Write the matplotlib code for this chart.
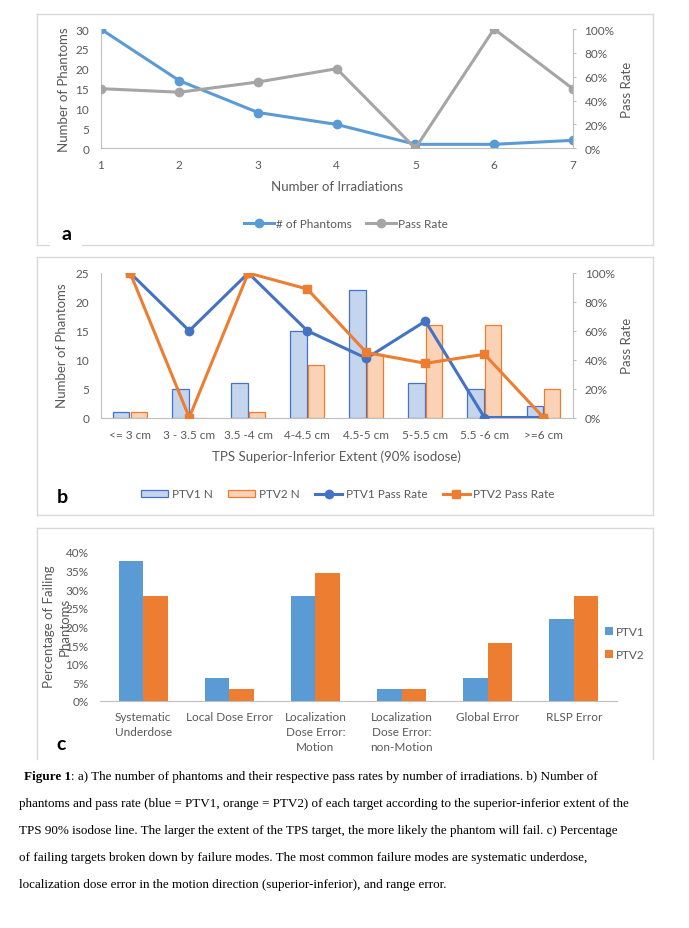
import matplotlib
matplotlib.use('Agg')
import matplotlib.pyplot as plt
from matplotlib.patches import Rectangle, Patch
from matplotlib.lines import Line2D
from matplotlib.ticker import PercentFormatter, MultipleLocator
import numpy as np

# ---------------- data ----------------
irradiations = [1, 2, 3, 4, 5, 6, 7]
n_phantoms = [30, 17, 9, 6, 1, 1, 2]
pass_rate_a = [0.50, 0.47, 0.556, 0.667, 0.0, 1.0, 0.50]

extent_labels = ["<= 3 cm", "3 - 3.5 cm", "3.5 -4 cm", "4-4.5 cm", "4.5-5 cm",
                 "5-5.5 cm", "5.5 -6 cm", ">=6 cm"]
ptv1_n = [1, 5, 6, 15, 22, 6, 5, 2]
ptv2_n = [1, 0, 1, 9, 11, 16, 16, 5]
ptv1_pass = [1.0, 0.60, 1.0, 0.60, 0.41, 0.667, 0.0, 0.0]
ptv2_pass = [1.0, 0.0, 1.0, 0.889, 0.45, 0.375, 0.4375, 0.0]

failure_modes = ["Systematic\nUnderdose", "Local Dose Error", "Localization\nDose Error:\nMotion",
                 "Localization\nDose Error:\nnon-Motion", "Global Error", "RLSP Error"]
ptv1_fail = [0.375, 0.0625, 0.281, 0.031, 0.0625, 0.219]
ptv2_fail = [0.281, 0.031, 0.344, 0.031, 0.156, 0.281]

caption_bold = "Figure 1"
caption_lines = [
    ": a) The number of phantoms and their respective pass rates by number of irradiations. b) Number of",
    "phantoms and pass rate (blue = PTV1, orange = PTV2) of each target according to the superior-inferior extent of the",
    "TPS 90% isodose line. The larger the extent of the TPS target, the more likely the phantom will fail. c) Percentage",
    "of failing targets broken down by failure modes. The most common failure modes are systematic underdose,",
    "localization dose error in the motion direction (superior-inferior), and range error.",
]

# ---------------- setup ----------------
W, H = 689, 929
plt.rcParams['font.family'] = ['Lato', 'DejaVu Sans']
fig = plt.figure(figsize=(W / 100, H / 100), dpi=100)

GRAY = '#595959'
AXC = '#bfbfbf'
FRAME = '#d9d9d9'
FS_TICK = 8.5
FS_TITLE = 9.5


def fx(x):
    return x / W


def fy(y):
    return 1 - y / H


def axes_px(l, t, r, b):
    return fig.add_axes([fx(l), fy(b), (r - l) / W, (b - t) / H])


def frame(l, t, r, b, bottom=True):
    segs = [((l, t), (r, t)), ((l, t), (l, b)), ((r, t), (r, b))]
    if bottom:
        segs.append(((l, b), (r, b)))
    for (x0, y0), (x1, y1) in segs:
        fig.add_artist(Line2D([fx(x0), fx(x1)], [fy(y0), fy(y1)], transform=fig.transFigure,
                              color=FRAME, lw=1.0))


def style_main(ax, left=True):
    for s in ['top', 'right']:
        ax.spines[s].set_visible(False)
    ax.spines['left'].set_visible(left)
    ax.spines['left'].set_color(AXC)
    ax.spines['bottom'].set_color(AXC)
    ax.tick_params(axis='both', length=0, labelsize=FS_TICK, labelcolor=GRAY)
    ax.tick_params(axis='y', pad=8.2)
    ax.tick_params(axis='x', pad=8)
    ax.patch.set_alpha(0)


def style_twin(ax2):
    for s in ['top', 'left', 'bottom']:
        ax2.spines[s].set_visible(False)
    ax2.spines['right'].set_color(AXC)
    ax2.tick_params(axis='y', direction='out', length=2.5, color=AXC, labelsize=FS_TICK,
                    labelcolor=GRAY, pad=6.0)
    ax2.yaxis.set_major_formatter(PercentFormatter(1.0, decimals=0))
    ax2.yaxis.set_major_locator(MultipleLocator(0.2))
    ax2.set_ylim(0, 1)


def letter(x, y, s, white=None):
    if white is not None:
        l, t, r, b = white
        fig.add_artist(Rectangle((fx(l), fy(b)), (r - l) / W, (b - t) / H, transform=fig.transFigure,
                                 facecolor='white', edgecolor='none', zorder=5))
    fig.text(fx(x), fy(y), s, fontsize=14, fontweight='bold', ha='center', va='center',
             color='black', zorder=6)


# ---------------- panel a ----------------
frame(36.7, 14.5, 652.5, 245.5)
axa = axes_px(100.7, 30, 572.7, 149.3)
style_main(axa)
axa.plot(irradiations, n_phantoms, color='#5b9bd5', lw=2.2, marker='o', ms=6, label='# of Phantoms')
axa.set_xlim(1, 7)
axa.set_ylim(0, 30)
axa.yaxis.set_major_locator(MultipleLocator(5))
axa.set_xticks(irradiations)
axa2 = axa.twinx()
style_twin(axa2)
axa2.plot(irradiations, pass_rate_a, color='#a5a5a5', lw=2.2, marker='o', ms=6, label='Pass Rate')
axa2.set_xlim(1, 7)
fig.text(fx(64), fy(89.6), "Number of Phantoms", rotation=90, ha='center', va='center',
         fontsize=FS_TITLE, color=GRAY)
fig.text(fx(627), fy(89.6), "Pass Rate", rotation=90, ha='center', va='center',
         fontsize=FS_TITLE, color=GRAY)
fig.text(fx(337), fy(187), "Number of Irradiations", ha='center', va='center',
         fontsize=FS_TITLE, color=GRAY)
ha = [Line2D([], [], color='#5b9bd5', lw=2.2, marker='o', ms=6),
      Line2D([], [], color='#a5a5a5', lw=2.2, marker='o', ms=6)]
fig.legend(ha, ['# of Phantoms', 'Pass Rate'], loc='center', bbox_to_anchor=(fx(346), fy(225)),
           ncol=2, frameon=False, fontsize=FS_TICK, labelcolor=GRAY, handlelength=2.5,
           handletextpad=0.2, columnspacing=1.2, borderpad=0)
letter(66.7, 234, 'a', white=(50, 222, 82, 250))

# ---------------- panel b ----------------
frame(36.7, 258, 652.5, 516)
axb = axes_px(100.7, 274, 573, 418.5)
style_main(axb)
xb = np.arange(len(extent_labels))
bw = 0.275
axb.bar(xb - 0.15, ptv1_n, width=bw, facecolor='#c6d5ee', edgecolor='#4472c4', lw=0.9, label='PTV1 N')
axb.bar(xb + 0.15, ptv2_n, width=bw, facecolor='#fad3b6', edgecolor='#ed7d31', lw=0.9, label='PTV2 N')
axb.set_xlim(-0.5, len(extent_labels) - 0.5)
axb.set_ylim(0, 25)
axb.yaxis.set_major_locator(MultipleLocator(5))
axb.set_xticks(xb)
axb.set_xticklabels(extent_labels)
axb2 = axb.twinx()
style_twin(axb2)
axb2.plot(xb, ptv1_pass, color='#4472c4', lw=2.2, marker='o', ms=6, label='PTV1 Pass Rate')
axb2.plot(xb, ptv2_pass, color='#ed7d31', lw=2.2, marker='s', ms=6, label='PTV2 Pass Rate')
axb2.set_xlim(-0.5, len(extent_labels) - 0.5)
fig.text(fx(62), fy(346), "Number of Phantoms", rotation=90, ha='center', va='center',
         fontsize=FS_TITLE, color=GRAY)
fig.text(fx(627), fy(346), "Pass Rate", rotation=90, ha='center', va='center',
         fontsize=FS_TITLE, color=GRAY)
fig.text(fx(336.7), fy(456.7), "TPS Superior-Inferior Extent (90% isodose)", ha='center', va='center',
         fontsize=FS_TITLE, color=GRAY)
hb = [Patch(facecolor='#c6d5ee', edgecolor='#4472c4', lw=0.9),
      Patch(facecolor='#fad3b6', edgecolor='#ed7d31', lw=0.9),
      Line2D([], [], color='#4472c4', lw=2.2, marker='o', ms=6),
      Line2D([], [], color='#ed7d31', lw=2.2, marker='s', ms=6)]
fig.legend(hb, ['PTV1 N', 'PTV2 N', 'PTV1 Pass Rate', 'PTV2 Pass Rate'], loc='center',
           bbox_to_anchor=(fx(348), fy(495)), ncol=4, frameon=False, fontsize=FS_TICK,
           labelcolor=GRAY, handlelength=2.3, handleheight=0.6, handletextpad=0.3,
           columnspacing=1.3, borderpad=0)
letter(62.7, 498, 'b')

# ---------------- panel c ----------------
frame(36.7, 528.7, 653, 760, bottom=False)
axc = axes_px(100, 552.7, 617, 702)
style_main(axc, left=False)
xc = np.arange(len(failure_modes))
cw = 0.285
axc.bar(xc - cw / 2, ptv1_fail, width=cw, color='#5b9bd5', label='PTV1')
axc.bar(xc + cw / 2, ptv2_fail, width=cw, color='#ed7d31', label='PTV2')
axc.set_xlim(-0.5, len(failure_modes) - 0.5)
axc.set_ylim(0, 0.4)
axc.yaxis.set_major_locator(MultipleLocator(0.05))
axc.yaxis.set_major_formatter(PercentFormatter(1.0, decimals=0))
axc.set_xticks(xc)
axc.set_xticklabels(failure_modes)
axc.tick_params(axis='x', pad=7)
for t in axc.get_xticklabels():
    t.set_linespacing(1.45)
    t.set_verticalalignment('top')
fig.text(fx(57), fy(627), "Percentage of Failing\nPhantoms", rotation=90, ha='center', va='center',
         fontsize=FS_TITLE, color=GRAY, multialignment='center', linespacing=1.4)
axc.legend(loc='center left', bbox_to_anchor=(fx(599), fy(644)), bbox_transform=fig.transFigure,
           frameon=False, fontsize=FS_TICK, labelcolor=GRAY, handlelength=0.7, handleheight=0.7,
           handletextpad=0.2, labelspacing=1.0, borderpad=0)
letter(61, 745, 'c')

# ---------------- caption ----------------
serif = ['Liberation Serif', 'DejaVu Serif']
renderer = fig.canvas.get_renderer()
probe = fig.text(0, 0, caption_lines[1], family=serif, fontsize=10)
wpx = probe.get_window_extent(renderer).width
probe.remove()
cap_fs = 10 * (632 - 19) / wpx
line_y = [776, 803, 830, 857, 884]
tb = fig.text(fx(24), fy(line_y[0]), caption_bold, family=serif, fontsize=cap_fs, fontweight='bold',
              va='center_baseline', ha='left')
bw_px = tb.get_window_extent(renderer).width
fig.text(fx(24 + bw_px), fy(line_y[0]), caption_lines[0], family=serif, fontsize=cap_fs,
         va='center_baseline', ha='left')
for s, y in zip(caption_lines[1:], line_y[1:]):
    fig.text(fx(19), fy(y), s, family=serif, fontsize=cap_fs, va='center_baseline', ha='left')

fig.savefig('out.png', dpi=100)
